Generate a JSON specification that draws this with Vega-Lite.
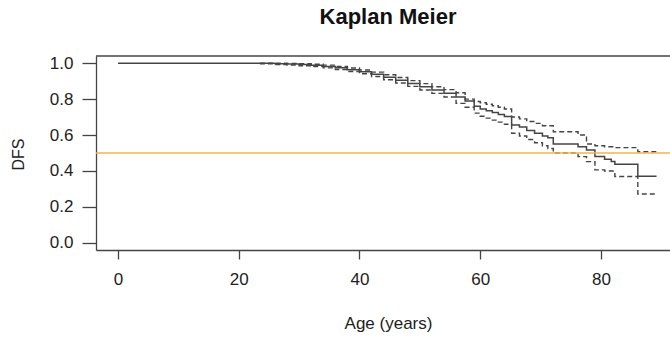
{
  "$schema": "https://vega.github.io/schema/vega-lite/v6.json",
  "autosize": {"type": "none"},
  "padding": {"left": 96, "top": 56, "right": 0, "bottom": 87},
  "width": 574,
  "height": 194,
  "background": "white",
  "config": {
    "view": {"stroke": null},
    "font": "Liberation Sans",
    "axis": {"grid": false, "domainColor": "#444", "domainWidth": 1.3, "tickColor": "#444", "tickWidth": 1.3, "labelColor": "#222", "titleColor": "#222", "labelFont": "Liberation Sans", "titleFont": "Liberation Sans", "titleFontWeight": "normal", "labelFontSize": 17, "titleFontSize": 16, "labelOverlap": false}
  },
  "title": {"text": "Kaplan Meier", "font": "Liberation Sans", "fontSize": 22, "fontWeight": "bold", "color": "#111", "anchor": "middle", "dx": 5, "baseline": "alphabetic", "offset": 8},
  "datasets": {
    "main": [
      {"age": 0, "s": 1.0},
      {"age": 23.5, "s": 0.999},
      {"age": 26, "s": 0.997},
      {"age": 28, "s": 0.995},
      {"age": 30, "s": 0.992},
      {"age": 32, "s": 0.988},
      {"age": 34, "s": 0.982},
      {"age": 36, "s": 0.974},
      {"age": 38, "s": 0.964},
      {"age": 40, "s": 0.952},
      {"age": 42, "s": 0.938},
      {"age": 44, "s": 0.922},
      {"age": 46, "s": 0.905},
      {"age": 48, "s": 0.887},
      {"age": 50, "s": 0.869},
      {"age": 52, "s": 0.851},
      {"age": 54, "s": 0.833},
      {"age": 56, "s": 0.812},
      {"age": 57.5, "s": 0.79},
      {"age": 59, "s": 0.76},
      {"age": 60, "s": 0.745},
      {"age": 61, "s": 0.735},
      {"age": 62, "s": 0.725},
      {"age": 63, "s": 0.714},
      {"age": 64, "s": 0.703},
      {"age": 65.2, "s": 0.656},
      {"age": 66.5, "s": 0.645},
      {"age": 67.7, "s": 0.625},
      {"age": 69, "s": 0.61},
      {"age": 70.3, "s": 0.595},
      {"age": 71.2, "s": 0.585},
      {"age": 72.1, "s": 0.55},
      {"age": 76.2, "s": 0.535},
      {"age": 77.6, "s": 0.517},
      {"age": 79, "s": 0.48},
      {"age": 80.6, "s": 0.465},
      {"age": 81.7, "s": 0.452},
      {"age": 82.3, "s": 0.437},
      {"age": 86.1, "s": 0.37},
      {"age": 89.2, "s": 0.37}
    ],
    "bounds": [
      {"age": 23.5, "s": 1.0, "bound": "upper"},
      {"age": 26, "s": 1.0, "bound": "upper"},
      {"age": 28, "s": 0.999, "bound": "upper"},
      {"age": 30, "s": 0.997, "bound": "upper"},
      {"age": 32, "s": 0.994, "bound": "upper"},
      {"age": 34, "s": 0.989, "bound": "upper"},
      {"age": 36, "s": 0.982, "bound": "upper"},
      {"age": 38, "s": 0.973, "bound": "upper"},
      {"age": 40, "s": 0.962, "bound": "upper"},
      {"age": 42, "s": 0.95, "bound": "upper"},
      {"age": 44, "s": 0.936, "bound": "upper"},
      {"age": 46, "s": 0.92, "bound": "upper"},
      {"age": 48, "s": 0.903, "bound": "upper"},
      {"age": 50, "s": 0.886, "bound": "upper"},
      {"age": 52, "s": 0.869, "bound": "upper"},
      {"age": 54, "s": 0.853, "bound": "upper"},
      {"age": 56, "s": 0.835, "bound": "upper"},
      {"age": 57.5, "s": 0.8, "bound": "upper"},
      {"age": 59, "s": 0.787, "bound": "upper"},
      {"age": 60, "s": 0.78, "bound": "upper"},
      {"age": 61, "s": 0.771, "bound": "upper"},
      {"age": 62, "s": 0.763, "bound": "upper"},
      {"age": 63, "s": 0.755, "bound": "upper"},
      {"age": 64, "s": 0.745, "bound": "upper"},
      {"age": 65.2, "s": 0.7, "bound": "upper"},
      {"age": 66.5, "s": 0.69, "bound": "upper"},
      {"age": 67.7, "s": 0.675, "bound": "upper"},
      {"age": 69, "s": 0.665, "bound": "upper"},
      {"age": 70.3, "s": 0.652, "bound": "upper"},
      {"age": 72.1, "s": 0.618, "bound": "upper"},
      {"age": 76.2, "s": 0.6, "bound": "upper"},
      {"age": 77.6, "s": 0.55, "bound": "upper"},
      {"age": 79, "s": 0.54, "bound": "upper"},
      {"age": 80.6, "s": 0.535, "bound": "upper"},
      {"age": 82.3, "s": 0.53, "bound": "upper"},
      {"age": 86.1, "s": 0.507, "bound": "upper"},
      {"age": 89.2, "s": 0.507, "bound": "upper"},
      {"age": 23.5, "s": 0.996, "bound": "lower"},
      {"age": 26, "s": 0.993, "bound": "lower"},
      {"age": 28, "s": 0.99, "bound": "lower"},
      {"age": 30, "s": 0.986, "bound": "lower"},
      {"age": 32, "s": 0.981, "bound": "lower"},
      {"age": 34, "s": 0.974, "bound": "lower"},
      {"age": 36, "s": 0.965, "bound": "lower"},
      {"age": 38, "s": 0.954, "bound": "lower"},
      {"age": 40, "s": 0.941, "bound": "lower"},
      {"age": 42, "s": 0.926, "bound": "lower"},
      {"age": 44, "s": 0.908, "bound": "lower"},
      {"age": 46, "s": 0.89, "bound": "lower"},
      {"age": 48, "s": 0.871, "bound": "lower"},
      {"age": 50, "s": 0.851, "bound": "lower"},
      {"age": 52, "s": 0.832, "bound": "lower"},
      {"age": 54, "s": 0.812, "bound": "lower"},
      {"age": 56, "s": 0.776, "bound": "lower"},
      {"age": 57.5, "s": 0.755, "bound": "lower"},
      {"age": 59, "s": 0.722, "bound": "lower"},
      {"age": 60, "s": 0.705, "bound": "lower"},
      {"age": 61, "s": 0.694, "bound": "lower"},
      {"age": 62, "s": 0.683, "bound": "lower"},
      {"age": 63, "s": 0.672, "bound": "lower"},
      {"age": 64, "s": 0.66, "bound": "lower"},
      {"age": 65.2, "s": 0.61, "bound": "lower"},
      {"age": 66.5, "s": 0.595, "bound": "lower"},
      {"age": 67.7, "s": 0.575, "bound": "lower"},
      {"age": 69, "s": 0.557, "bound": "lower"},
      {"age": 70.3, "s": 0.54, "bound": "lower"},
      {"age": 71.2, "s": 0.525, "bound": "lower"},
      {"age": 72.1, "s": 0.5, "bound": "lower"},
      {"age": 76.2, "s": 0.48, "bound": "lower"},
      {"age": 77.6, "s": 0.452, "bound": "lower"},
      {"age": 79, "s": 0.406, "bound": "lower"},
      {"age": 80.6, "s": 0.4, "bound": "lower"},
      {"age": 82.3, "s": 0.369, "bound": "lower"},
      {"age": 86.1, "s": 0.272, "bound": "lower"},
      {"age": 89.2, "s": 0.272, "bound": "lower"}
    ]
  },
  "layer": [
    {
      "data": {"name": "bounds"},
      "mark": {"type": "line", "interpolate": "step-after", "color": "#444", "strokeWidth": 1.4, "strokeDash": [5, 3]},
      "encoding": {
        "x": {"field": "age", "type": "quantitative", "scale": {"domain": [-3.64, 91.43], "nice": false, "zero": false}, "axis": {"values": [0, 20, 40, 60, 80], "tickSize": 9, "labelPadding": 12, "labelOverlap": false, "title": "Age (years)", "titleFontSize": 17, "titleX": 292, "titleY": 73, "titleBaseline": "middle"}},
        "y": {"field": "s", "type": "quantitative", "scale": {"domain": [-0.04, 1.04], "nice": false, "zero": false}, "axis": {"values": [0, 0.2, 0.4, 0.6, 0.8, 1.0], "format": ".1f", "tickSize": 14, "labelPadding": 9, "labelOverlap": false, "title": "DFS", "titleX": -78, "titleY": 98, "titleAngle": -90, "titleAlign": "center", "titleBaseline": "middle"}},
        "detail": {"field": "bound", "type": "nominal"}
      }
    },
    {
      "data": {"name": "main"},
      "mark": {"type": "line", "interpolate": "step-after", "color": "#444", "strokeWidth": 1.5},
      "encoding": {
        "x": {"field": "age", "type": "quantitative", "scale": {"domain": [-3.64, 91.43], "nice": false, "zero": false}, "axis": {"values": [0, 20, 40, 60, 80], "tickSize": 9, "labelPadding": 12, "labelOverlap": false, "title": "Age (years)", "titleFontSize": 17, "titleX": 292, "titleY": 73, "titleBaseline": "middle"}},
        "y": {"field": "s", "type": "quantitative", "scale": {"domain": [-0.04, 1.04], "nice": false, "zero": false}, "axis": {"values": [0, 0.2, 0.4, 0.6, 0.8, 1.0], "format": ".1f", "tickSize": 14, "labelPadding": 9, "labelOverlap": false, "title": "DFS", "titleX": -78, "titleY": 98, "titleAngle": -90, "titleAlign": "center", "titleBaseline": "middle"}}
      }
    },
    {
      "data": {"values": [{"s": 0.5}]},
      "mark": {"type": "rule", "color": "#F5B04B", "strokeWidth": 1.4},
      "encoding": {"y": {"field": "s", "type": "quantitative", "scale": {"domain": [-0.04, 1.04], "nice": false, "zero": false}, "axis": {"values": [0, 0.2, 0.4, 0.6, 0.8, 1.0], "format": ".1f", "tickSize": 14, "labelPadding": 9, "labelOverlap": false, "title": "DFS", "titleX": -78, "titleY": 98, "titleAngle": -90, "titleAlign": "center", "titleBaseline": "middle"}}}
    },
    {
      "data": {"values": [{"s": 1.04}]},
      "mark": {"type": "rule", "color": "#444", "strokeWidth": 1.3},
      "encoding": {"y": {"field": "s", "type": "quantitative", "scale": {"domain": [-0.04, 1.04], "nice": false, "zero": false}, "axis": {"values": [0, 0.2, 0.4, 0.6, 0.8, 1.0], "format": ".1f", "tickSize": 14, "labelPadding": 9, "labelOverlap": false, "title": "DFS", "titleX": -78, "titleY": 98, "titleAngle": -90, "titleAlign": "center", "titleBaseline": "middle"}}}
    }
  ]
}
